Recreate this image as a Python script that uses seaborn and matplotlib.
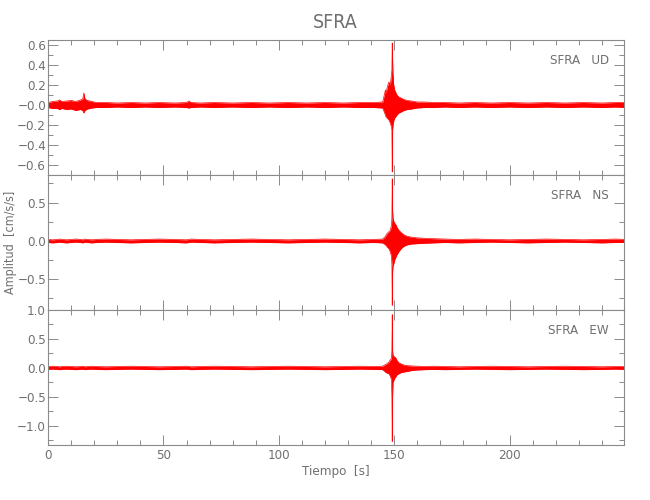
import matplotlib
matplotlib.use("Agg")
import matplotlib.pyplot as plt
from matplotlib.ticker import FixedLocator, MultipleLocator
import pandas as pd
import seaborn as sns

# envolvente del registro (picos superior / inferior)
tiempo = [0, 2, 4, 5, 6, 8, 10, 12, 14, 15, 15.5, 16, 17, 19, 21, 25, 30, 36, 42, 48,
          55, 60, 61, 62, 66, 72, 80, 88, 96, 104, 112, 120, 128, 135, 141, 145, 146.2, 146.5, 147, 147.7,
          148.3, 148.8, 149.0, 149.15, 149.3, 149.5, 149.8, 150.2, 150.6, 151.2, 152, 153, 154.2, 155.7, 157.5, 160, 163, 167, 172, 178,
          185, 192, 200, 208, 216, 224, 232, 240, 246, 250]

ud_sup = [0.025, 0.035, 0.04, 0.05, 0.035, 0.04, 0.045, 0.035, 0.05, 0.06, 0.12, 0.06, 0.045, 0.035, 0.025, 0.025, 0.02, 0.025, 0.02, 0.025,
          0.02, 0.025, 0.04, 0.025, 0.02, 0.025, 0.02, 0.025, 0.02, 0.025, 0.02, 0.025, 0.02, 0.025, 0.025, 0.03, 0.15, 0.12, 0.18, 0.23,
          0.2, 0.3, 0.35, 0.62, 0.45, 0.3, 0.2, 0.15, 0.13, 0.1, 0.08, 0.07, 0.055, 0.045, 0.04, 0.03, 0.03, 0.025, 0.025, 0.02,
          0.025, 0.02, 0.025, 0.02, 0.025, 0.02, 0.025, 0.02, 0.025, 0.025]
ud_inf = [-0.025, -0.035, -0.035, -0.045, -0.035, -0.045, -0.04, -0.055, -0.045, -0.055, -0.08, -0.055, -0.04, -0.03, -0.025, -0.025, -0.02, -0.025, -0.02, -0.025,
          -0.02, -0.025, -0.03, -0.025, -0.02, -0.025, -0.02, -0.025, -0.02, -0.025, -0.02, -0.025, -0.02, -0.025, -0.025, -0.03, -0.10, -0.12, -0.13, -0.15,
          -0.18, -0.22, -0.25, -0.67, -0.25, -0.2, -0.16, -0.13, -0.12, -0.1, -0.08, -0.07, -0.055, -0.045, -0.04, -0.03, -0.025, -0.025, -0.02, -0.025,
          -0.02, -0.025, -0.02, -0.025, -0.02, -0.025, -0.02, -0.025, -0.02, -0.025]

ns_sup = [0.02, 0.015, 0.02, 0.025, 0.02, 0.015, 0.02, 0.025, 0.02, 0.015, 0.02, 0.025, 0.02, 0.015, 0.02, 0.025, 0.02, 0.015, 0.02, 0.025,
          0.02, 0.015, 0.02, 0.025, 0.02, 0.015, 0.02, 0.025, 0.02, 0.015, 0.02, 0.025, 0.02, 0.015, 0.02, 0.025, 0.06, 0.08, 0.1, 0.12,
          0.14, 0.2, 0.3, 0.81, 0.4, 0.3, 0.26, 0.23, 0.22, 0.18, 0.14, 0.11, 0.08, 0.06, 0.05, 0.04, 0.035, 0.03, 0.025, 0.02,
          0.025, 0.02, 0.015, 0.02, 0.025, 0.02, 0.015, 0.02, 0.025, 0.02]
ns_inf = [-0.02, -0.025, -0.02, -0.015, -0.02, -0.025, -0.02, -0.015, -0.02, -0.025, -0.02, -0.015, -0.02, -0.025, -0.02, -0.015, -0.02, -0.025, -0.02, -0.015,
          -0.02, -0.025, -0.02, -0.015, -0.02, -0.025, -0.02, -0.015, -0.02, -0.025, -0.02, -0.015, -0.02, -0.025, -0.02, -0.025, -0.05, -0.06, -0.08, -0.1,
          -0.14, -0.2, -0.3, -0.84, -0.4, -0.33, -0.3, -0.25, -0.22, -0.18, -0.14, -0.1, -0.07, -0.05, -0.04, -0.035, -0.03, -0.025, -0.02, -0.025,
          -0.02, -0.015, -0.02, -0.025, -0.02, -0.015, -0.02, -0.025, -0.02, -0.02]

ew_sup = [0.025, 0.03, 0.025, 0.02, 0.025, 0.03, 0.025, 0.02, 0.025, 0.03, 0.025, 0.02, 0.025, 0.03, 0.025, 0.02, 0.025, 0.03, 0.025, 0.02,
          0.025, 0.03, 0.025, 0.02, 0.025, 0.03, 0.025, 0.02, 0.025, 0.03, 0.025, 0.02, 0.025, 0.03, 0.025, 0.03, 0.06, 0.06, 0.08, 0.1,
          0.14, 0.16, 0.3, 0.92, 0.3, 0.22, 0.2, 0.19, 0.18, 0.13, 0.09, 0.07, 0.05, 0.04, 0.035, 0.03, 0.025, 0.03, 0.025, 0.02,
          0.025, 0.03, 0.025, 0.02, 0.025, 0.03, 0.025, 0.02, 0.025, 0.025]
ew_inf = [-0.025, -0.02, -0.025, -0.03, -0.025, -0.02, -0.025, -0.03, -0.025, -0.02, -0.025, -0.03, -0.025, -0.02, -0.025, -0.03, -0.025, -0.02, -0.025, -0.03,
          -0.025, -0.02, -0.025, -0.03, -0.025, -0.02, -0.025, -0.03, -0.025, -0.02, -0.025, -0.03, -0.025, -0.02, -0.025, -0.03, -0.07, -0.08, -0.09, -0.1,
          -0.14, -0.2, -0.5, -1.27, -0.5, -0.25, -0.22, -0.18, -0.16, -0.12, -0.1, -0.08, -0.07, -0.06, -0.045, -0.035, -0.03, -0.025, -0.03, -0.025,
          -0.02, -0.025, -0.03, -0.025, -0.02, -0.025, -0.03, -0.025, -0.02, -0.025]

estacion = 'SFRA'
canales = ['UD', 'NS', 'EW']
limites_y = [(-0.70, 0.65), (-0.90, 0.86), (-1.33, 1.0)]
ticks_y = [[-0.6, -0.4, -0.2, 0.0, 0.2, 0.4, 0.6], [-0.5, 0.0, 0.5], [-1.0, -0.5, 0.0, 0.5, 1.0]]
etiquetas_y = [['\u22120.6', '\u22120.4', '\u22120.2', '\u22120.0', '0.2', '0.4', '0.6'],
               ['\u22120.5', '0.0', '0.5'],
               ['\u22121.0', '\u22120.5', '0.0', '0.5', '1.0']]
menor_y = [0.1, 0.25, 0.25]
ticks_x = [0, 50, 100, 150, 200]

sns.set_theme(style='white')
gris = '#8a8a8a'
texto = '#707070'
plt.rcParams['font.family'] = ['DejaVu Sans']
plt.rcParams['font.stretch'] = 'condensed'
plt.rcParams['font.weight'] = 'light'
plt.rcParams['axes.edgecolor'] = gris
plt.rcParams['axes.linewidth'] = 0.8
plt.rcParams['text.color'] = texto

fig, axes = plt.subplots(3, 1, sharex=True, figsize=(6.5, 5), dpi=100)
fig.subplots_adjust(left=0.074, right=0.96, top=0.92, bottom=0.11, hspace=0)

envolventes = [(ud_sup, ud_inf), (ns_sup, ns_inf), (ew_sup, ew_inf)]
for i, ax in enumerate(axes):
    sup, inf = envolventes[i]
    df = pd.DataFrame({'tiempo': tiempo + tiempo,
                       'amp': sup + inf,
                       'borde': ['sup'] * len(tiempo) + ['inf'] * len(tiempo)})
    ax.fill_between(tiempo, inf, sup, color='red', linewidth=0)
    sns.lineplot(data=df, x='tiempo', y='amp', units='borde', estimator=None,
                 color='red', linewidth=0.5, ax=ax, legend=False)
    ax.set_ylim(*limites_y[i])
    ax.yaxis.set_major_locator(FixedLocator(ticks_y[i]))
    ax.set_yticklabels(etiquetas_y[i])
    ax.yaxis.set_minor_locator(MultipleLocator(menor_y[i]))
    ax.set_xlim(0, 249.6)
    ax.xaxis.set_major_locator(FixedLocator(ticks_x))
    ax.xaxis.set_minor_locator(MultipleLocator(10))
    ax.tick_params(which='both', direction='in', top=True, right=True, bottom=True, left=True,
                   color=gris, width=0.7, labelcolor=texto, labelsize=9.5, pad=1.5)
    ax.tick_params(which='major', length=7.2)
    ax.tick_params(which='minor', length=3.6)
    ax.set_xlabel('')
    ax.set_ylabel('')
    ax.text(0.974, 0.845, f'{estacion}   {canales[i]}', transform=ax.transAxes,
            ha='right', va='center', fontsize=9.5, color=texto)

axes[2].set_xticklabels([str(v) for v in ticks_x])
axes[2].tick_params(axis='x', pad=3)

fig.text(0.516, 0.956, estacion, ha='center', va='center', fontsize=14, color=texto)
fig.text(0.516, 0.058, 'Tiempo  [s]', ha='center', va='center', fontsize=9.5, color=texto)
fig.text(0.016, 0.515, 'Amplitud  [cm/s/s]', ha='center', va='center', rotation=90,
         fontsize=9, color=texto)

fig.savefig('out.png', dpi=100)
